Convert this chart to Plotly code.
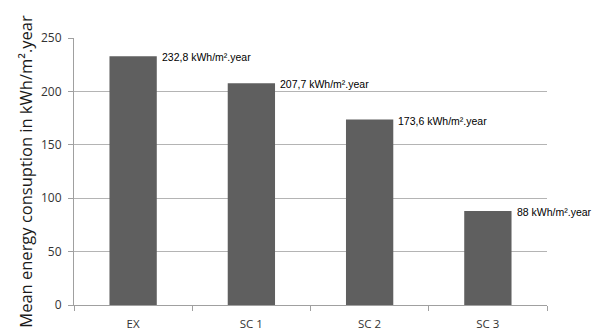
import plotly.graph_objects as go

categories = ["EX", "SC 1", "SC 2", "SC 3"]
values = [232.8, 207.7, 173.6, 88]
labels = ["232,8 kWh/m².year", "207,7 kWh/m².year", "173,6 kWh/m².year", "88 kWh/m².year"]
y_ticks = [0, 50, 100, 150, 200, 250]

fig = go.Figure()
fig.add_trace(go.Bar(x=categories, y=values, marker=dict(color="#5f5f5f", line=dict(width=0)),
                     width=0.4, hoverinfo="skip"))

for i, (v, t) in enumerate(zip(values, labels)):
    fig.add_annotation(x=i + 0.2, y=v, xref="x", yref="y", text=t, showarrow=False,
                       xanchor="left", yanchor="middle", xshift=3, yshift=-1,
                       font=dict(family="Liberation Sans, Arial", size=10.5, color="#000000"))

fig.update_layout(
    width=601, height=330,
    margin=dict(l=74, r=54, t=38, b=25),
    paper_bgcolor="white", plot_bgcolor="white",
    showlegend=False,
    bargap=0.6,
)
fig.update_xaxes(
    type="category", range=[-0.5, 3.5], automargin=False,
    showline=True, linecolor="#a0a0a0", linewidth=1,
    ticks="outside", tickson="boundaries", ticklen=5, tickcolor="#a0a0a0",
    showgrid=False,
    tickfont=dict(family="Open Sans, DejaVu Sans", size=11.5, color="#333333"),
    ticklabelstandoff=8,
)
fig.update_yaxes(
    range=[0, 250], tickvals=y_ticks, automargin=False,
    showline=True, linecolor="#a0a0a0", linewidth=1,
    ticks="outside", ticklen=5, tickcolor="#a0a0a0",
    showgrid=True, gridcolor="#b4b4b4", gridwidth=1,
    zeroline=False,
    tickfont=dict(family="Open Sans, DejaVu Sans", size=12, color="#333333"),
    ticklabelstandoff=4,
    title=dict(text="Mean energy consuption in kWh/m².year",
               font=dict(family="Open Sans, DejaVu Sans", size=16.5, color="#1a1a1a"),
               standoff=4),
)

fig.write_html("out.html")
